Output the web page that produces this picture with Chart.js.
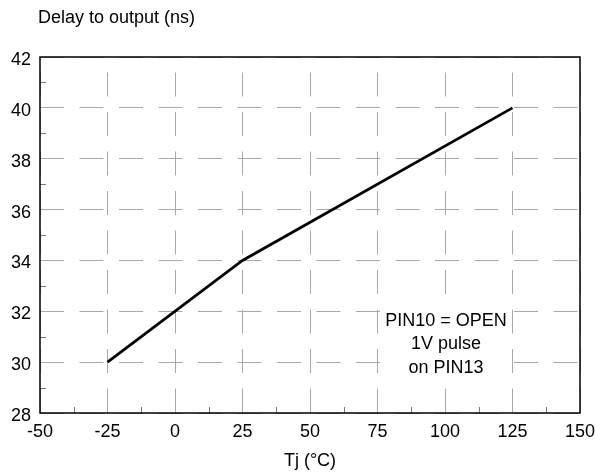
<!DOCTYPE html>
<html>
<head>
<meta charset="utf-8">
<script src="https://cdn.jsdelivr.net/npm/chart.js@4.4.0/dist/chart.umd.min.js"></script>
<style>
  html, body { margin: 0; padding: 0; background: #fff; }
</style>
</head>
<body>
<canvas id="delayChart" width="595" height="476"></canvas>
<script>
// data
const tempC = [-25, 25, 125];
const delayNs = [30, 34, 40];
const xTicks = [-50, -25, 0, 25, 50, 75, 100, 125, 150];
const yTicks = [28, 30, 32, 34, 36, 38, 40, 42];
const noteLines = ['PIN10 = OPEN', '1V pulse', 'on PIN13'];
const yTitle = 'Delay to output (ns)';
const xTitle = 'Tj (°C)';

const FONT = "'Liberation Sans', Arial, sans-serif";

// frame, small inner ticks, y title and the note box
const decorations = {
  id: 'decorations',
  beforeDatasetsDraw(chart) {
    const { ctx, scales: { x, y } } = chart;
    // note box, centred on T = 100
    const cx = x.getPixelForValue(100);
    const cy = y.getPixelForValue(30.7);
    ctx.save();
    ctx.fillStyle = '#fff';
    ctx.fillRect(cx - 65, cy - 47, 130, 91);
    ctx.fillStyle = '#000';
    ctx.font = '18px ' + FONT;
    ctx.textAlign = 'center';
    ctx.textBaseline = 'middle';
    noteLines.forEach((line, i) => {
      ctx.fillText(line, cx + 1, cy - 23.5 + i * 23.5);
    });
    ctx.restore();
  },
  afterDraw(chart) {
    const { ctx, chartArea: a, scales: { x, y } } = chart;
    ctx.save();
    // minor ticks halfway between the majors
    ctx.strokeStyle = '#777';
    ctx.lineWidth = 1;
    ctx.beginPath();
    for (let i = 0; i < xTicks.length - 1; i++) {
      const px = Math.round(x.getPixelForValue((xTicks[i] + xTicks[i + 1]) / 2)) + 0.5;
      ctx.moveTo(px, a.bottom);
      ctx.lineTo(px, a.bottom - 6);
    }
    for (let i = 0; i < yTicks.length - 1; i++) {
      const py = Math.round(y.getPixelForValue((yTicks[i] + yTicks[i + 1]) / 2)) + 0.5;
      ctx.moveTo(a.left, py);
      ctx.lineTo(a.left + 6, py);
    }
    ctx.stroke();
    // frame
    ctx.strokeStyle = '#000';
    ctx.lineWidth = 1.5;
    ctx.strokeRect(a.left, a.top, a.right - a.left, a.bottom - a.top);
    // y title sits above the axis
    ctx.fillStyle = '#000';
    ctx.font = '18px ' + FONT;
    ctx.textAlign = 'left';
    ctx.textBaseline = 'middle';
    ctx.fillText(yTitle, 38, 18.5);
    ctx.restore();
  }
};

new Chart(document.getElementById('delayChart'), {
  type: 'line',
  data: {
    datasets: [{
      data: tempC.map((t, i) => ({ x: t, y: delayNs[i] })),
      borderColor: '#000',
      borderWidth: 2.8,
      pointRadius: 0,
      tension: 0,
      fill: false,
    }],
  },
  options: {
    responsive: false,
    animation: false,
    devicePixelRatio: 1,
    layout: { padding: { top: 57, right: 15, left: 0, bottom: 0 } },
    plugins: {
      legend: { display: false },
      tooltip: { enabled: false },
    },
    scales: {
      x: {
        type: 'linear',
        min: -50,
        max: 150,
        afterFit: (s) => { s.height = 63; s.paddingLeft = 0; s.paddingRight = 0; },
        afterBuildTicks: (s) => { s.ticks = xTicks.map(v => ({ value: v })); },
        ticks: { color: '#000', font: { size: 18, family: FONT }, padding: 8 },
        grid: { color: '#a8a8a8', lineWidth: 1, drawTicks: false },
        border: { display: false, dash: [24, 15.5], dashOffset: 24 },
        title: {
          display: true,
          text: xTitle,
          color: '#000',
          font: { size: 18, family: FONT },
          padding: { top: 0, bottom: 4 },
        },
      },
      y: {
        min: 28,
        max: 42,
        afterFit: (s) => { s.width = 40; s.paddingTop = 0; s.paddingBottom = 0; },
        afterBuildTicks: (s) => { s.ticks = yTicks.map(v => ({ value: v })); },
        ticks: { color: '#000', font: { size: 18, family: FONT }, padding: 9, labelOffset: 3 },
        grid: { color: '#a8a8a8', lineWidth: 1, drawTicks: false },
        border: { display: false, dash: [24, 15.5], dashOffset: 0 },
      },
    },
  },
  plugins: [decorations],
});
</script>
</body>
</html>
